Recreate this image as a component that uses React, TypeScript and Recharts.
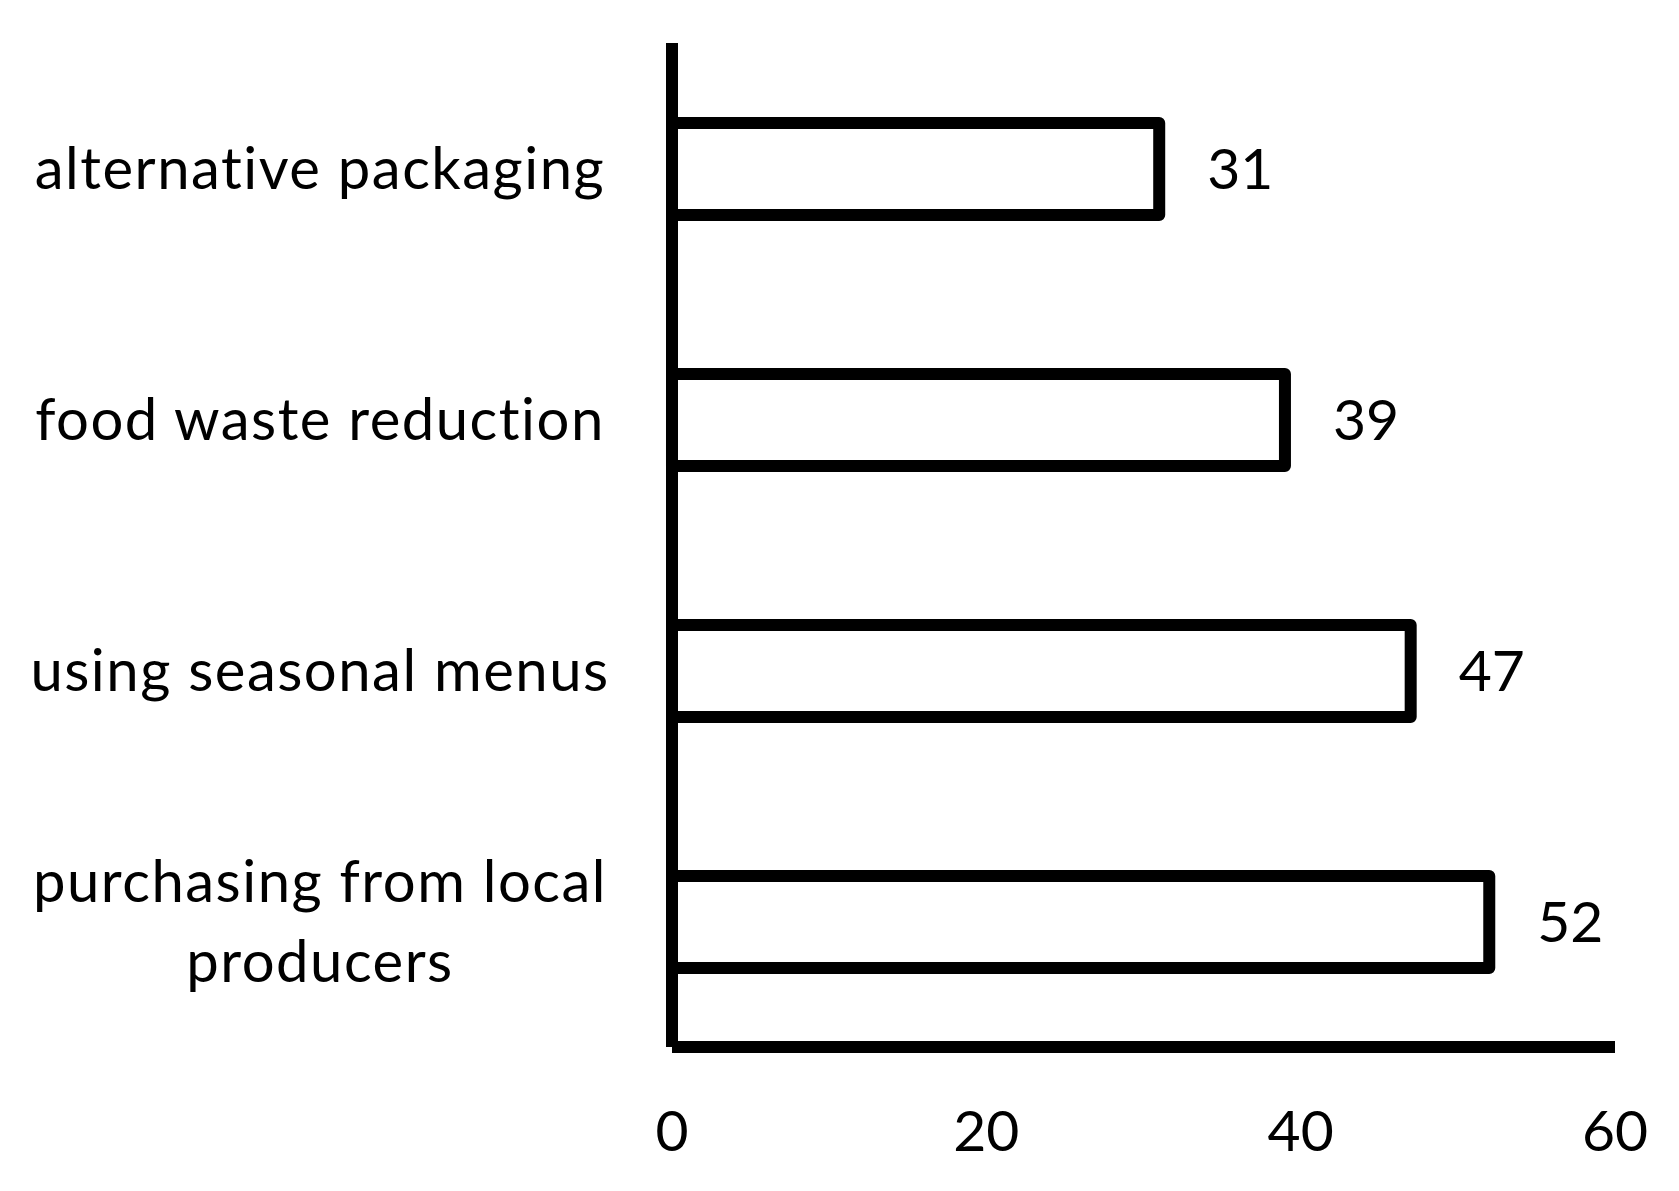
import { BarChart, Bar, XAxis, YAxis, LabelList } from 'recharts';

const categories = [
  'alternative packaging',
  'food waste reduction',
  'using seasonal menus',
  'purchasing from local producers',
];
const values = [31, 39, 47, 52];
const xTicks = [0, 20, 40, 60];

const data = categories.map((name, i) => ({ name, value: values[i] }));

const FONT = 'Lato, "Open Sans", sans-serif';

// category labels are centred on one column, long ones wrap onto two lines
const wrap = (s: string) => {
  if (s.length <= 22) return [s];
  const words = s.split(' ');
  const first: string[] = [];
  while (words.length && (first.concat(words[0]).join(' ').length <= 22)) first.push(words.shift() as string);
  return [first.join(' '), words.join(' ')];
};

const CategoryTick = ({ x, y, payload }: any) => {
  const lines = wrap(payload.value);
  const lh = 80;
  const start = y - ((lines.length - 1) * lh) / 2;
  return (
    <text
      x={x - 344}
      y={start}
      textAnchor="middle"
      fontFamily={FONT}
      fontSize={58}
      letterSpacing={1.5}
      style={{ fontVariantLigatures: 'none' }}
      fill="#000"
    >
      {lines.map((l, i) => (
        <tspan key={i} x={x - 344} y={start + i * lh} dy="0.35em">{l}</tspan>
      ))}
    </text>
  );
};

const App = () => {
  return (
    <div style={{ width: 1663, height: 1183, background: '#fff' }}>
      <BarChart
        width={1663}
        height={1183}
        data={data}
        layout="vertical"
        margin={{ top: 35, right: 56, left: 0, bottom: 0 }}
      >
        <XAxis
          type="number"
          domain={[0, 60]}
          ticks={xTicks}
          height={144}
          tickLine={false}
          tickMargin={58}
          axisLine={{ stroke: '#000', strokeWidth: 12 }}
          tick={{ fill: '#000', fontSize: 57, fontFamily: FONT }}
        />
        <YAxis
          type="category"
          dataKey="name"
          width={664}
          tickLine={false}
          axisLine={{ stroke: '#000', strokeWidth: 12 }}
          tick={<CategoryTick />}
        />
        <Bar
          dataKey="value"
          fill="#fff"
          stroke="#000"
          strokeWidth={12}
          strokeLinejoin="round"
          barSize={92}
          isAnimationActive={false}
        >
          <LabelList
            dataKey="value"
            position="right"
            offset={48}
            fill="#000"
            fontSize={57}
            fontFamily={FONT}
          />
        </Bar>
      </BarChart>
    </div>
  );
};

export default App;
